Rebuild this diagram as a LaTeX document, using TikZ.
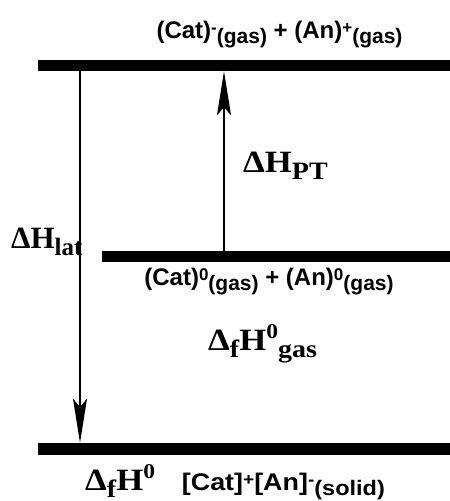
\documentclass[tikz,border=0pt]{standalone}
\usepackage{fontspec}
\usepackage{graphicx}
\setmainfont{Liberation Serif}
\setsansfont{Liberation Sans}
\usetikzlibrary{arrows.meta}

% sans formula text with raised / lowered parts
\newcommand{\ssup}[1]{\raisebox{5pt}{\fontsize{17}{17}\selectfont #1}}
\newcommand{\ssub}[1]{\raisebox{-5pt}{\fontsize{21}{21}\selectfont #1}}
% serif enthalpy symbols
\newcommand{\rsup}[1]{\raisebox{12pt}{\fontsize{21}{21}\selectfont #1}}
\newcommand{\rsub}[1]{\raisebox{-7pt}{\fontsize{25}{25}\selectfont #1}}
\newcommand{\wide}[1]{\scalebox{1.12}[1]{#1}}

\tikzset{
	level/.style={fill=black, inner sep=0pt, anchor=west},
	species/.style={font=\sffamily\bfseries\fontsize{24}{24}\selectfont, inner sep=0pt, anchor=base},
	enth/.style={font=\rmfamily\bfseries\fontsize{31}{31}\selectfont, inner sep=0pt, anchor=base west},
	step arrow/.style={-{Stealth[length=44pt, width=14pt, inset=8pt]}, line width=2.2pt},
}

\begin{document}
\begin{tikzpicture}[x=1pt, y=-1pt]
	\useasboundingbox (0,0) rectangle (450,501);
	% energy levels
	\node [level, minimum width=412pt, minimum height=11pt] (ion) at (38,65.5) {};
	\node [level, minimum width=348pt, minimum height=11pt] (neutral) at (102,256.5) {};
	\node [level, minimum width=412pt, minimum height=12pt] (solid) at (38,449) {};
	\coordinate (latx) at (80,0);
	\coordinate (ptx) at (224,0);
	% transitions
	\draw [step arrow] (latx |- ion.south) -- (latx |- solid.north);
	\draw [step arrow] (ptx |- neutral.north) -- (ptx |- ion.south);
	% labels
	\node [species] (ionlbl) at (279.5,38) {(Cat)\ssup{-}\ssub{(gas)} + (An)\ssup{+}\ssub{(gas)}};
	\node [species] (neutlbl) at (269,285) {(Cat)\ssup{0}\ssub{(gas)} + (An)\ssup{0}\ssub{(gas)}};
	\node [enth] (pt) at (243,172) {\wide{ΔH\rsub{PT}}};
	\node [enth] (lat) at (11,248) {ΔH\rsub{lat}};
	\node [enth] (fgas) at (208,350) {\wide{Δ\rsub{f}H\rsup{0}\rsub{gas}}};
	\node [enth] (fsolid) at (85,490) {\wide{Δ\rsub{f}H\rsup{0}\hspace{24pt}{\sffamily\fontsize{24}{24}\selectfont [Cat]\ssup{+}[An]\ssup{-}\ssub{(solid)}}}};
\end{tikzpicture}
\end{document}
